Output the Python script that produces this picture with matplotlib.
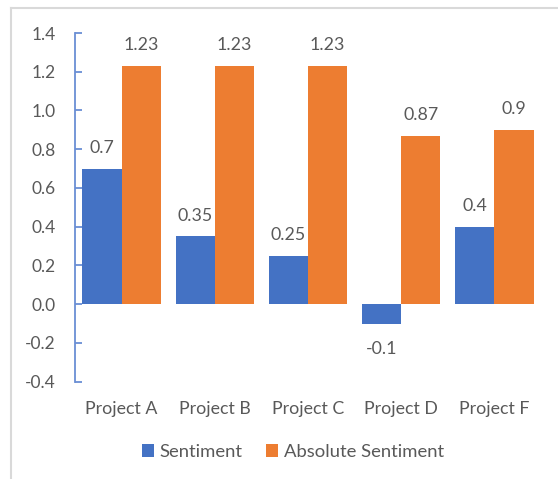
import numpy as np
import matplotlib as mpl
import matplotlib.pyplot as plt
from matplotlib.lines import Line2D

mpl.rc('font', family=['Lato', 'DejaVu Sans'])

projects = ['Project A', 'Project B', 'Project C', 'Project D', 'Project F']
sentiment = [0.7, 0.35, 0.25, -0.1, 0.4]
absolute = [1.23, 1.23, 1.23, 0.87, 0.9]
sent_labels = ['0.7', '0.35', '0.25', '-0.1', '0.4']
abs_labels = ['1.23', '1.23', '1.23', '0.87', '0.9']
yticks = [-0.4, -0.2, 0.0, 0.2, 0.4, 0.6, 0.8, 1.0, 1.2, 1.4]

blue = '#4472C4'
orange = '#ED7D31'
grey = '#595959'

fig = plt.figure(figsize=(5.58, 4.79), dpi=100)
ax = fig.add_axes([75 / 558, 1 - 381.7 / 479, 466 / 558, 348.7 / 479])

x = np.arange(len(projects))
w = 0.42
b1 = ax.bar(x - w / 2, sentiment, w, color=blue, label='Sentiment')
b2 = ax.bar(x + w / 2, absolute, w, color=orange, label='Absolute Sentiment')

for bars, vals, labs in [(b1, sentiment, sent_labels), (b2, absolute, abs_labels)]:
    for rect, v, lab in zip(bars, vals, labs):
        cx = rect.get_x() + rect.get_width() / 2
        off = 15 if v >= 0 else -18.5
        ax.annotate(lab, (cx, v), xytext=(0, off), textcoords='offset points',
                    ha='center', va='center', fontsize=12.8, color=grey)

ax.set_xlim(-0.5, len(projects) - 0.5)
ax.set_ylim(-0.4, 1.4)
ax.set_yticks(yticks)
ax.set_yticklabels([f'{t:.1f}' for t in yticks])
ax.set_xticks(x)
ax.set_xticklabels(projects)

for s in ['top', 'right', 'bottom']:
    ax.spines[s].set_visible(False)
ax.spines['left'].set_color('#6A8FD4')
ax.spines['left'].set_linewidth(1.3)
ax.tick_params(axis='y', direction='in', length=5, width=1.3, color='#6A8FD4',
               labelsize=12.5, labelcolor=grey, pad=14)
ax.tick_params(axis='x', length=0, labelsize=12.8, labelcolor=grey, pad=14)

fig.legend(handles=[b1, b2], loc='center', bbox_to_anchor=(293 / 558, 1 - 452 / 479),
           ncol=2, frameon=False, fontsize=13.3, labelcolor=grey,
           handlelength=0.65, handleheight=0.65, handletextpad=0.3, columnspacing=1.3)

# chart border (cropped)
fig.add_artist(Line2D([11 / 558, 11 / 558], [0, 1 - 8 / 479], color='#D9D9D9', lw=1.5))
fig.add_artist(Line2D([11 / 558, 1], [1 - 8 / 479, 1 - 8 / 479], color='#D9D9D9', lw=1.5))

fig.savefig('out.png', dpi=100)
